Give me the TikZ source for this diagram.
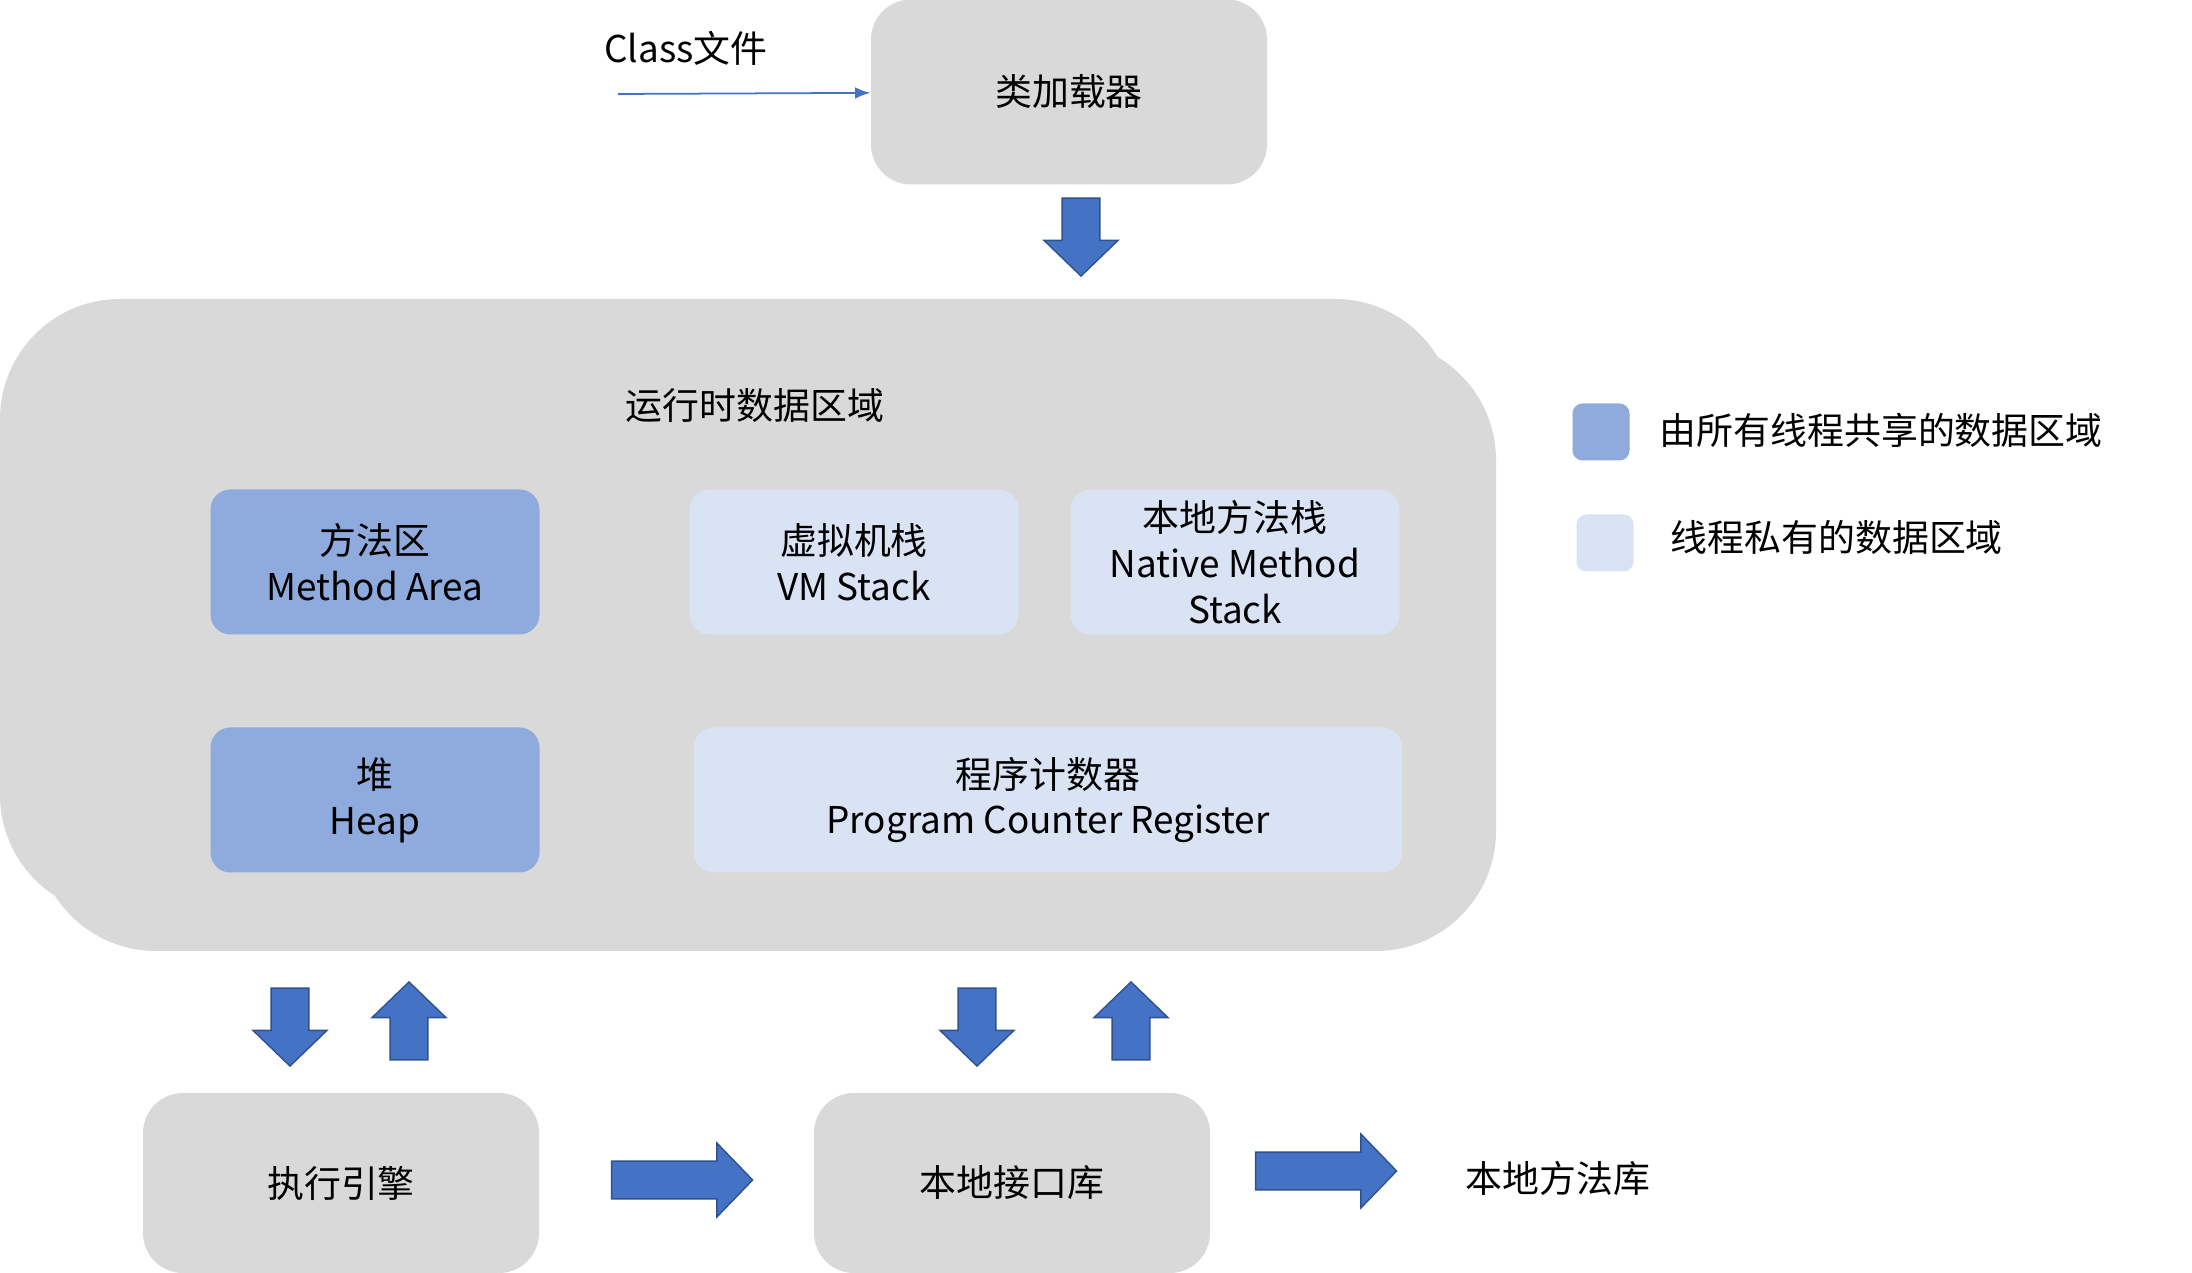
\documentclass[tikz,border=0pt]{standalone}
\usepackage{fontspec}
\setmainfont{Noto Sans CJK SC}
\usetikzlibrary{shapes.arrows}
\definecolor{boxgray}{HTML}{D9D9D9}
\definecolor{sharedblue}{HTML}{8FAADC}
\definecolor{privateblue}{HTML}{DAE3F3}
\definecolor{arrowblue}{HTML}{4472C4}
\definecolor{arrowedge}{HTML}{2F528F}

\begin{document}
\begin{tikzpicture}[x=0.1mm,y=-0.1mm,font=\fontsize{10.5}{13}\selectfont]
  \tikzstyle{bigbox}=[fill=boxgray,rounded corners=4mm,minimum width=39.6mm,inner sep=0pt]
  \tikzstyle{area}=[rounded corners=2mm,minimum height=14.5mm,minimum width=32.9mm,align=center,inner sep=0pt]
  \tikzstyle{shared}=[area,fill=sharedblue]
  \tikzstyle{private}=[area,fill=privateblue]
  \tikzstyle{fat}=[single arrow,fill=arrowblue,draw=arrowedge,line width=0.4pt,minimum height=7.8mm,minimum width=7.4mm,single arrow head extend=1.8mm,single arrow tip angle=92,inner xsep=0pt,inner ysep=1.8mm]
  \tikzstyle{legend}=[rounded corners=1mm,minimum size=5.7mm,inner sep=0pt]

  \useasboundingbox (0,0) rectangle (2192,1273);

  \node[bigbox,minimum height=18.5mm] (loader) at (1069,92) {类加载器};
  \node (class) at (686,48) {Class文件};
  \coordinate (classin) at (618,94);
  \draw[-latex,arrowblue,line width=0.5pt] (classin) -- (loader);
  \node[fat,rotate=-90] (load-arrow) at (1081,228) {};

  \fill[boxgray,rounded corners=12mm] (0,299) rectangle (1455,915);
  \fill[boxgray,rounded corners=12mm] (36,340) rectangle (1496,951);
  \node (runtime) at (755,406) {运行时数据区域};

  \node[shared] (method) at (375,562) {方法区\\Method Area};
  \node[private] (vmstack) at (854,562) {虚拟机栈\\VM Stack};
  \node[private] (native) at (1235,562) {本地方法栈\\Native Method\\Stack};
  \node[shared] (heap) at (375,800) {堆\\Heap};
  \node[private,minimum width=70.8mm] (pc) at (1048,800) {程序计数器\\Program Counter Register};

  \foreach \name / \x in {engine/290,iface/977}
    \node[fat,rotate=-90] (down-\name) at (\x,1018) {};
  \foreach \name / \x in {engine/409,iface/1131}
    \node[fat,rotate=90] (up-\name) at (\x,1030) {};

  \node[bigbox,minimum height=18mm] (engine) at (341,1183) {执行引擎};
  \node[bigbox,minimum height=18mm] (iface) at (1012,1183) {本地接口库};
  \node[fat,minimum height=14.1mm] (right-engine) at (673,1180) {};
  \node[fat,minimum height=14.1mm] (right-iface) at (1317,1171) {};
  \node (nativelib) at (1558,1178) {本地方法库};

  \node[legend,fill=sharedblue] (key-shared) at (1601,432) {};
  \node[legend,fill=privateblue] (key-private) at (1605,543) {};
  \node[anchor=west,inner sep=0pt] (text-shared) at (1659,430) {由所有线程共享的数据区域};
  \node[anchor=west,inner sep=0pt] (text-private) at (1670,537) {线程私有的数据区域};
\end{tikzpicture}
\end{document}
